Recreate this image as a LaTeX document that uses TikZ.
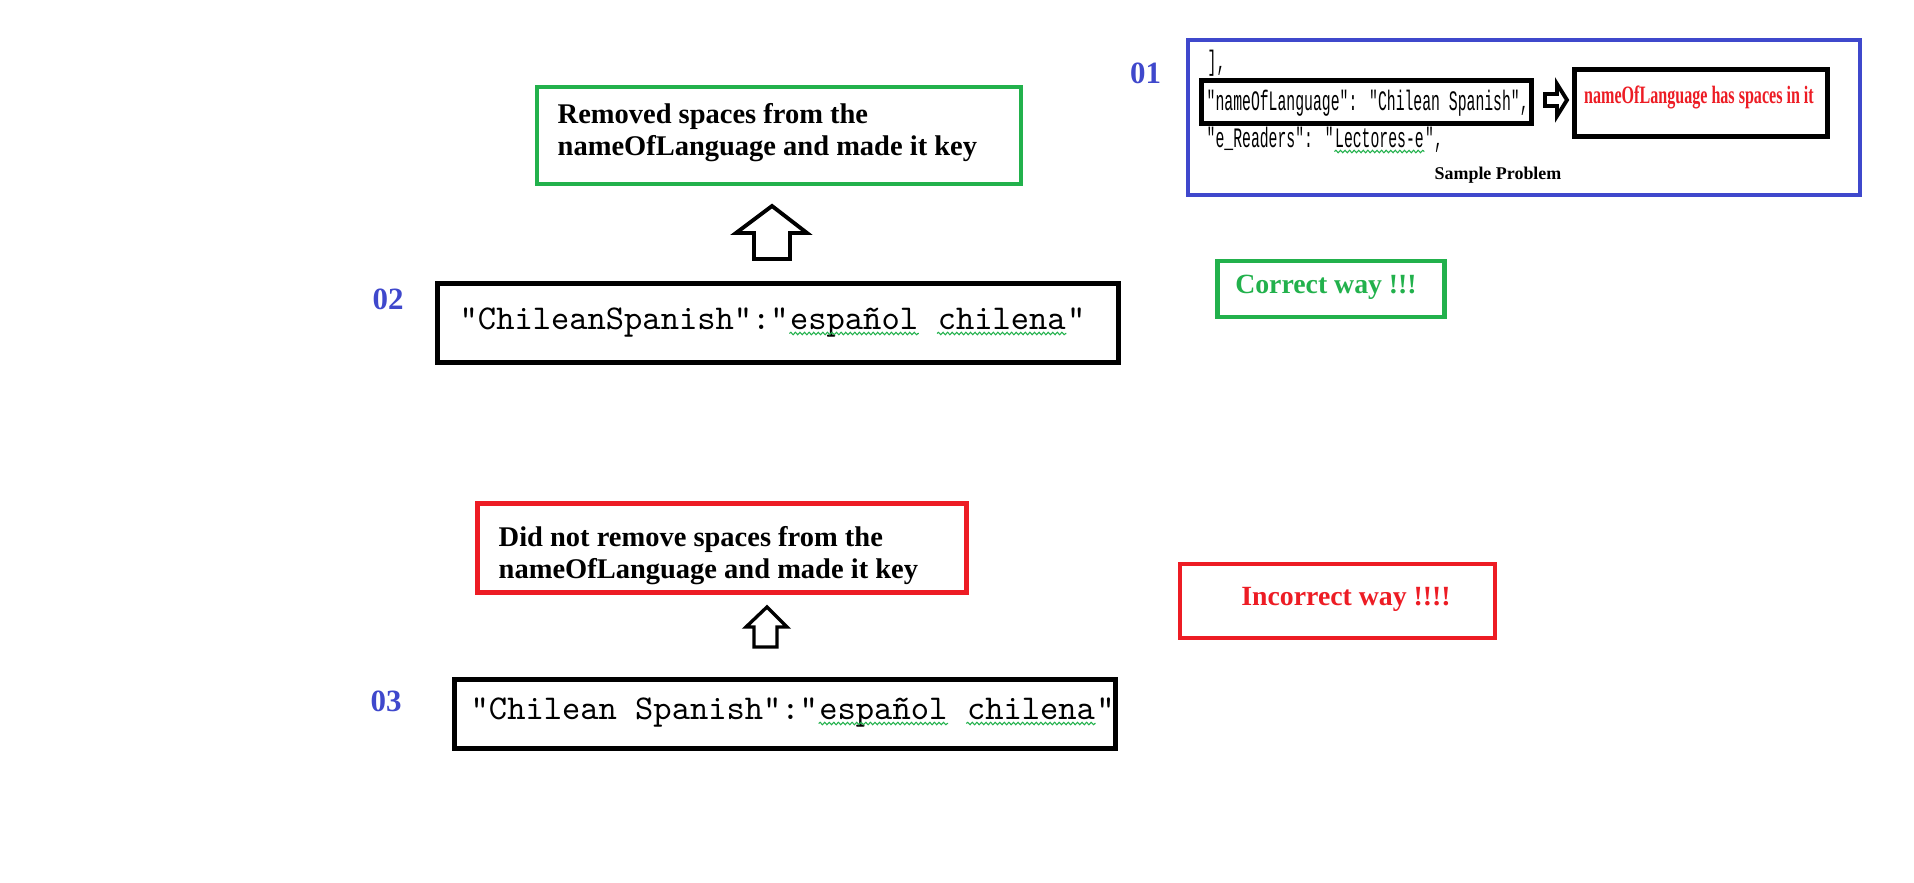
\documentclass[tikz,border=0pt]{standalone}
\usepackage{fontspec}
\setmainfont{Liberation Serif}
\newfontfamily\editorfont{Liberation Mono}
\usepackage{graphicx}
\usetikzlibrary{positioning,decorations.pathmorphing}

\definecolor{paintblue}{RGB}{63,72,204}
\definecolor{paintgreen}{RGB}{34,177,76}
\definecolor{paintred}{RGB}{237,28,36}

% squeeze text sideways, the sample screenshot is condensed
\newcommand{\squeezed}[2]{\scalebox{#1}[1]{#2}}

\begin{document}
\begin{tikzpicture}[x=0.01cm, y=-0.01cm,
    frame/.style={draw, inner sep=0, outer sep=0},
    okframe/.style={frame, draw=paintgreen, line width=1.25pt},
    badframe/.style={frame, draw=paintred, line width=1.3pt},
    codeframe/.style={frame, line width=1.42pt},
    sampleframe/.style={frame, draw=paintblue, line width=1.25pt},
    num/.style={font=\fontsize{8.8}{10}\selectfont\bfseries, text=paintblue, inner sep=0, anchor=base},
    boxtext/.style={font=\fontsize{8.1}{9.1}\selectfont\bfseries, align=left, inner sep=0, anchor=north west},
    verdict/.style={font=\fontsize{7.9}{9}\selectfont\bfseries, inner sep=0, anchor=base},
    code/.style={font=\ttfamily\fontsize{9.9}{11}\selectfont, inner sep=0, anchor=base west},
    tinycode/.style={font=\editorfont\fontsize{8}{9}\selectfont, inner sep=0, anchor=base west},
    squig/.style={paintgreen, line width=0.3pt, decorate, decoration={snake, amplitude=0.35pt, segment length=1.3pt}},
    hollow/.style={draw, line width=1.1pt, line join=miter}
]
\fill[white] (0,0) rectangle (1914,883);

% 01 sample problem
\node[sampleframe, minimum width=6.72cm, minimum height=1.55cm] (sample) at (1524,117.5) {};
\node[num] (n01) at (1145.5,84) {01};
\node[tinycode] (bracket) at (1207,71) {\squeezed{0.525}{],}};
\node[codeframe, minimum width=3.3cm, minimum height=0.43cm] (keyline) at (1366.5,102) {};
\node[tinycode] (keytxt) at (1206,111) {\squeezed{0.525}{"nameOfLanguage": "Chilean Spanish",}};
\node[tinycode] (rda) at (1206,148) {\squeezed{0.525}{"e\_Readers": "}};
\node[tinycode] (rdb) at (rda.base east) {\squeezed{0.525}{Lectores-e}};
\node[tinycode] (rdc) at (rdb.base east) {\squeezed{0.525}{",}};
\draw[squig] ([yshift=-1pt]rdb.base west) -- ([yshift=-1pt]rdb.base east);
\node[codeframe, minimum width=2.53cm, minimum height=0.67cm] (note) at (1701,103) {};
\node[font=\fontsize{7.1}{8}\selectfont\bfseries, text=paintred, inner sep=0, anchor=base] (notetxt) at (1699,104)
    {\squeezed{0.644}{nameOfLanguage has spaces in it}};
\node[font=\fontsize{5.1}{6}\selectfont\bfseries, inner sep=0, anchor=base] (sampletxt) at (1498,180) {Sample Problem};
\coordinate (ra) at (1567,100);
\draw[hollow] (ra) -- ++(-10,-16) -- ++(0,10) -- ++(-12,0) -- ++(0,12) -- ++(12,0) -- ++(0,10) -- cycle;

% 02 correct way
\node[okframe, minimum width=4.84cm, minimum height=0.97cm] (removed) at (779,135.5) {};
\node[boxtext] (removedtxt) at (557,103) {Removed spaces from the\\nameOfLanguage and made it key};
\coordinate (up1) at (772,206);
\draw[hollow] (up1) -- ++(35,27) -- ++(-17,0) -- ++(0,26) -- ++(-36,0) -- ++(0,-26) -- ++(-18,0) -- cycle;
\node[codeframe, minimum width=6.81cm, minimum height=0.79cm] (fixed) at (778,323) {};
\node[num] (n02) at (388,310) {02};
\node[code] (c2a) at (459,330) {"ChileanSpanish":"};
\node[code] (c2b) at (c2a.base east) {español};
\node[code, xshift=5.2pt] (c2c) at (c2b.base east) {chilena};
\node[code] (c2d) at (c2c.base east) {"};
\draw[squig] ([yshift=-1pt]c2b.base west) -- ([yshift=-1pt]c2b.base east);
\draw[squig] ([yshift=-1pt]c2c.base west) -- ([yshift=-1pt]c2c.base east);
\node[okframe, minimum width=2.265cm, minimum height=0.56cm] (okbox) at (1331,289) {};
\node[verdict, text=paintgreen] (oktxt) at (1326,294) {Correct way !!!};

% 03 incorrect way
\node[badframe, minimum width=4.89cm, minimum height=0.89cm] (notremoved) at (722,548) {};
\node[boxtext] (notremovedtxt) at (498,526) {Did not remove spaces from the\\nameOfLanguage and made it key};
\coordinate (up2) at (767,607);
\draw[hollow, line width=0.95pt] (up2) -- ++(20,20) -- ++(-10,0) -- ++(0,20) -- ++(-23,0) -- ++(0,-20) -- ++(-8,0) -- cycle;
\node[codeframe, minimum width=6.61cm, minimum height=0.69cm] (raw) at (785,714) {};
\node[num] (n03) at (386,712) {03};
\node[code] (c3a) at (470,720) {"Chilean Spanish":"};
\node[code] (c3b) at (c3a.base east) {español};
\node[code, xshift=5.2pt] (c3c) at (c3b.base east) {chilena};
\node[code] (c3d) at (c3c.base east) {"};
\draw[squig] ([yshift=-1pt]c3b.base west) -- ([yshift=-1pt]c3b.base east);
\draw[squig] ([yshift=-1pt]c3c.base west) -- ([yshift=-1pt]c3c.base east);
\node[badframe, minimum width=3.15cm, minimum height=0.74cm] (badbox) at (1337.5,601) {};
\node[verdict, text=paintred] (badtxt) at (1346,606) {Incorrect way !!!!};
\end{tikzpicture}
\end{document}
